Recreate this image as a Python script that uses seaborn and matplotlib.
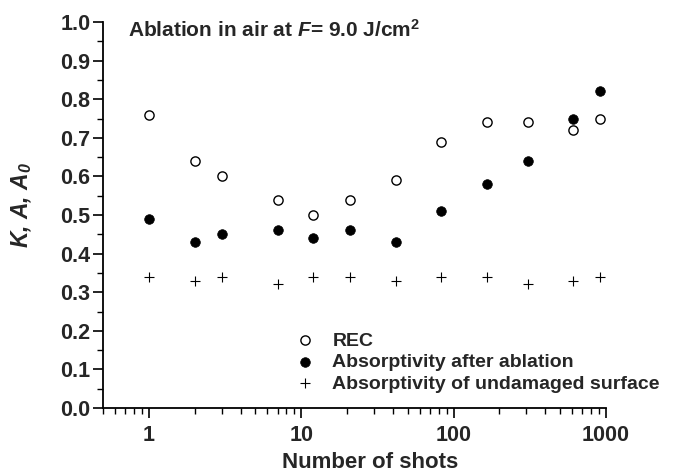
import pandas as pd
import matplotlib
matplotlib.use("Agg")
import matplotlib.pyplot as plt
import seaborn as sns
from matplotlib.ticker import MultipleLocator, LogLocator, NullFormatter

# Data
shots = [1, 2, 3, 7, 12, 21, 42, 83, 165, 310, 610, 920]
rec = [0.76, 0.64, 0.60, 0.54, 0.50, 0.54, 0.59, 0.69, 0.74, 0.74, 0.72, 0.75]
absorb_after = [0.49, 0.43, 0.45, 0.46, 0.44, 0.46, 0.43, 0.51, 0.58, 0.64, 0.75, 0.82]
absorb_undamaged = [0.34, 0.33, 0.34, 0.32, 0.34, 0.34, 0.33, 0.34, 0.34, 0.32, 0.33, 0.34]

x_ticks = [1, 10, 100, 1000]
x_ticklabels = ['1', '10', '100', '1000']
y_ticks = [i / 10 for i in range(11)]

sns.set_style("ticks")
plt.rcParams['font.family'] = ['Liberation Sans', 'DejaVu Sans']
plt.rcParams['font.weight'] = 'bold'
plt.rcParams['mathtext.fontset'] = 'custom'
plt.rcParams['mathtext.it'] = 'Liberation Sans:italic:bold'
plt.rcParams['mathtext.bf'] = 'Liberation Sans:bold'
plt.rcParams['mathtext.rm'] = 'Liberation Sans:italic:bold'

fig = plt.figure(figsize=(6.77, 4.74), dpi=100)
ax = fig.add_axes([103 / 677, 1 - 408 / 474, 503 / 677, 386 / 474])

sns.scatterplot(x=shots, y=rec, ax=ax, marker='o', s=44, facecolor='white',
                edgecolor='black', linewidth=1.0, label='REC', zorder=3)
sns.scatterplot(x=shots, y=absorb_after, ax=ax, marker='o', s=48, color='black',
                edgecolor='black', linewidth=0.5, label='Absorptivity after ablation', zorder=3)
sns.scatterplot(x=shots, y=absorb_undamaged, ax=ax, marker='+', s=55, color='black',
                linewidth=0.8, label='Absorptivity of undamaged surface', zorder=3)

ax.set_xscale('log')
ax.set_xlim(0.5, 1000)
ax.set_ylim(0, 1.0)
ax.yaxis.set_minor_locator(MultipleLocator(0.05))
ax.xaxis.set_minor_locator(LogLocator(base=10, subs=range(2, 10), numticks=20))
ax.xaxis.set_minor_formatter(NullFormatter())
ax.set_xticks(x_ticks)
ax.set_xticklabels(x_ticklabels)
ax.set_yticks(y_ticks)
ax.set_yticklabels([f"{v:.1f}" for v in y_ticks])

ax.tick_params(axis='both', which='major', direction='out', length=7, width=1.2,
               labelsize=15.5, color='black')
ax.tick_params(axis='y', which='major', pad=2)
ax.tick_params(axis='x', which='major', pad=5)
ax.tick_params(axis='both', which='minor', direction='out', length=4, width=1.0, color='black')
for lab in ax.get_xticklabels() + ax.get_yticklabels():
    lab.set_fontweight('bold')

sns.despine(ax=ax)
for side in ['left', 'bottom']:
    ax.spines[side].set_linewidth(1.3)
    ax.spines[side].set_color('black')

ax.set_xlabel('Number of shots', fontsize=16, fontweight='bold')
ax.xaxis.set_label_coords(0.531, -0.14)
ax.xaxis.label.set_va('center')
ax.set_ylabel('K, A, A$_0$', fontsize=16.5, fontweight='bold', style='italic')
ax.yaxis.set_label_coords(-0.161, 0.526)
ax.yaxis.label.set_va('center')

ax.text(0.05, 0.961, r'Ablation in air at $F$= 9.0 J/cm$^{\mathbf{2}}$',
        transform=ax.transAxes, fontsize=15, fontweight='bold', va='baseline', ha='left')

leg = ax.legend(loc='lower left', bbox_to_anchor=(0.348, 0.02), frameon=False,
                fontsize=14, handletextpad=0.4, labelspacing=0.2, borderaxespad=0,
                handlelength=2.0)
for t in leg.get_texts():
    t.set_fontweight('bold')

fig.savefig('out.png', dpi=100)
